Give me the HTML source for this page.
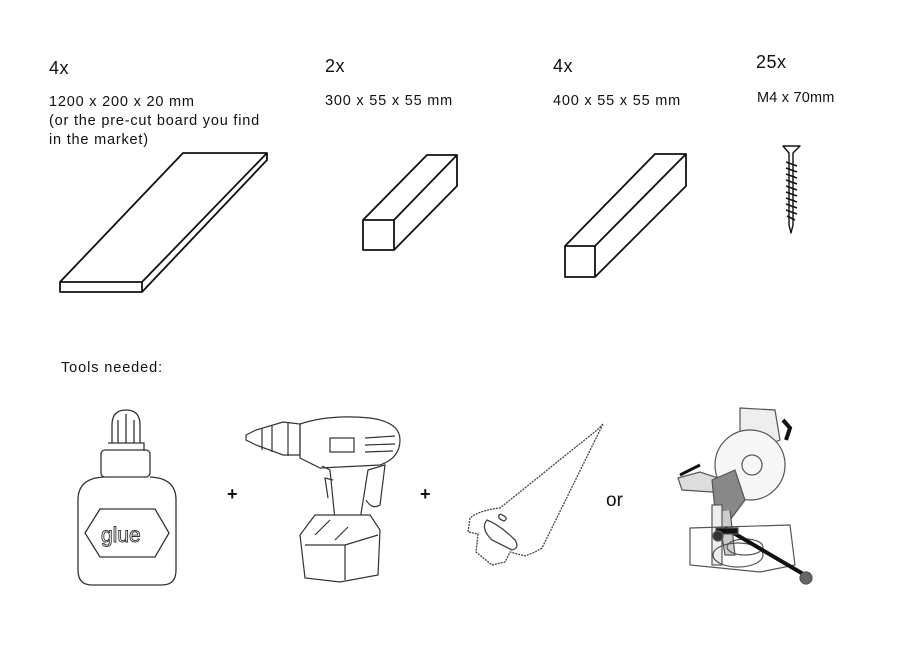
<!DOCTYPE html>
<html><head><style>
body{margin:0;background:#fff;}
svg{display:block;font-family:"Liberation Sans",sans-serif;}
</style></head><body>
<svg width="900" height="661" viewBox="0 0 900 661" xmlns="http://www.w3.org/2000/svg">
<g fill="#111" font-size="18" letter-spacing="0.5">
<text x="49" y="74">4x</text>
<text x="325" y="72">2x</text>
<text x="553" y="72">4x</text>
<text x="756" y="68">25x</text>
</g>
<g fill="#111" font-size="14.5" letter-spacing="0.8">
<text x="49" y="106">1200 x 200 x 20 mm</text>
<text x="49" y="125">(or the pre-cut board you find</text>
<text x="49" y="144">in the market)</text>
<text x="325" y="105">300 x 55 x 55 mm</text>
<text x="553" y="105">400 x 55 x 55 mm</text>
<text x="757" y="102" letter-spacing="0.2">M4 x 70mm</text>
<text x="61" y="372" letter-spacing="0.9">Tools needed:</text>
</g>
<g fill="none" stroke="#111" stroke-width="1.8" stroke-linejoin="round">
<path d="M60,282 L183,153 L267,153 L142,282 Z"/>
<path d="M60,282 L60,292 L142,292 L142,282"/>
<path d="M142,292 L267,160 L267,153"/>
<rect x="363" y="220" width="31" height="30"/>
<path d="M363,220 L427,155 L457,155 L394,220 M457,155 L457,186 L394,250"/>
<rect x="565" y="246" width="30" height="31"/>
<path d="M565,246 L655,154 L686,154 L595,246 M686,154 L686,186 L595,277"/>
<path d="M783,146 L800,146 L793,153 L793,225 L791,233 L789,225 L789,153 Z" stroke-width="1.4"/>
<path d="M786,162 L797,166 M786,168 L797,172 M786,174 L797,178 M786,180 L797,184 M786,186 L797,190 M786,192 L797,196 M786,198 L797,202 M786,204 L797,208 M786,210 L797,214 M787,216 L795,220" stroke-width="1.6"/>
</g>
<g fill="none" stroke="#333" stroke-width="1.3">
<path d="M112,443 L112,425 Q112,410 126,410 Q140,410 140,425 L140,443"/>
<path d="M118,443 L118,420 M126,443 L126,414 M134,443 L134,420"/>
<path d="M108,443 L144,443 L144,451"/>
<rect x="101" y="450" width="49" height="27" rx="4"/>
<path d="M104,477 Q78,478 78,500 L78,570 Q78,585 92,585 L162,585 Q176,585 176,570 L176,500 Q176,478 150,477"/>
<path d="M85,533 L100,509 L155,509 L169,533 L155,557 L100,557 Z"/>
<text x="101" y="542" font-size="21" fill="#fff" stroke="#333" stroke-width="0.9" font-family="Liberation Sans,sans-serif">glue</text>
</g>
<g fill="#111" font-size="18" font-weight="bold">
<text x="227" y="500">+</text>
<text x="420" y="500">+</text>
</g>
<text x="606" y="506" font-size="19" fill="#111">or</text>
<g fill="none" stroke="#333" stroke-width="1.2">
<path d="M246,435 L256,430 L283,422 L300,424 L300,455 L283,455 L256,445 L246,440 Z"/>
<path d="M262,428 L262,450 M272,425 L272,452 M288,422 L288,456"/>
<path d="M300,424 Q330,414 370,418 Q400,422 400,440 Q400,458 380,465 L320,468 L300,458 Z"/>
<rect x="330" y="438" width="24" height="14"/>
<path d="M365,438 L395,436 M365,445 L395,444 M365,452 L393,451"/>
<path d="M322,466 L330,470 L335,520 L360,520 L368,470 L385,465 L380,505 Q372,510 366,500"/>
<path d="M333,480 L325,478 L328,498"/>
<path d="M300,535 L315,515 L370,515 L380,530 L378,575 L340,582 L305,578 Z" fill="#fff"/>
<path d="M305,545 L345,545 L378,535 M345,545 L345,580"/>
<path d="M335,540 L348,527 M315,535 L330,520"/>
</g>
<g fill="none" stroke="#444" stroke-width="1.3">
<path d="M603,424 L597,430 L500,508 Q480,510 470,518 L468,532 L478,534 L476,552 L492,565 L505,562 L510,552 L525,556 L535,552 L542,548 Z" stroke-dasharray="2 1"/>
<path d="M487,520 Q480,528 492,540 L512,550 Q520,548 515,540 Q500,525 487,520 Z"/>
<path d="M500,514 Q496,518 504,521 Q510,518 500,514"/>
</g>
<g stroke="#555" stroke-width="1.2" fill="none">
<path d="M740,408 L775,410 L780,440 L760,448 L740,440 Z" fill="#eee"/>
<circle cx="750" cy="465" r="35" fill="#f6f6f6"/>
<circle cx="752" cy="465" r="10"/>
<path d="M678,478 L700,472 L730,482 L712,492 L682,490 Z" fill="#ddd"/>
<path d="M680,475 L700,465" stroke="#111" stroke-width="3"/>
<path d="M712,480 L735,470 L745,500 L730,520 L715,510 Z" fill="#888"/>
<path d="M718,512 L725,555 L735,555 L730,510" fill="#ccc"/>
<rect x="712" y="505" width="10" height="60" fill="#eee"/>
<ellipse cx="738" cy="555" rx="25" ry="12"/>
<ellipse cx="745" cy="547" rx="18" ry="8"/>
<path d="M690,528 L790,525 L795,565 L760,572 L690,565 Z"/>
<path d="M725,528 L810,578" stroke="#111" stroke-width="4"/>
<circle cx="806" cy="578" r="6" fill="#666"/>
<rect x="716" y="528" width="22" height="6" fill="#111"/>
<circle cx="718" cy="536" r="5" fill="#333"/>
<path d="M783,420 L790,428 L786,440" stroke="#111" stroke-width="4"/>
</g>
</svg>
</body></html>
